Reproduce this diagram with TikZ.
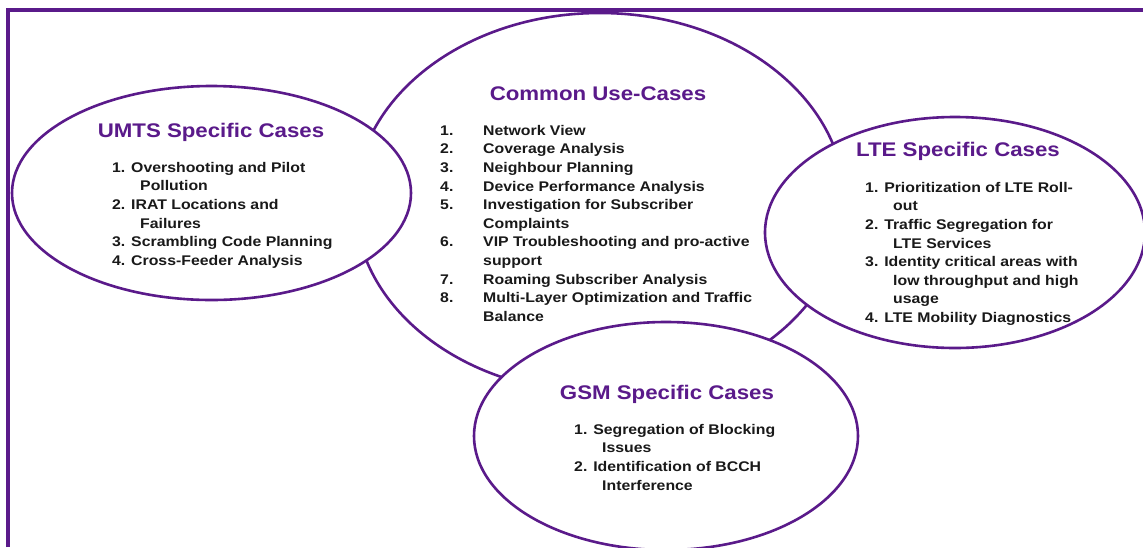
\documentclass[tikz,border=0pt]{standalone}
\usepackage{fontspec}
\setmainfont{Liberation Sans}[FakeStretch=1.13]
\usetikzlibrary{shapes.geometric}
\definecolor{caseviolet}{HTML}{5A1A8A}
\newcommand{\caseno}[1]{\makebox[43pt][l]{#1}}
\newcommand{\subind}{\hspace*{28pt}}
\begin{document}
\begin{tikzpicture}[x=1pt, y=-1pt,
  bubble/.style={ellipse, draw=caseviolet, line width=2.6pt, fill=white, inner sep=0pt},
  heading/.style={font=\fontsize{19.7}{22}\selectfont\bfseries, text=caseviolet, anchor=base, inner sep=0pt},
  items/.style={font=\fontsize{14}{18.6}\selectfont\bfseries, text=black!90, align=left, anchor=north west, inner sep=0pt}]
  \useasboundingbox (0,0) rectangle (1143,547);
  \clip (0,0) rectangle (1143,547);

  % Common use-cases in the middle, drawn first
  \node[bubble, minimum width=490, minimum height=380] (common) at (600,203) {};
  % the specific cases lie over it
  \foreach \name/\cx/\cy/\w/\h in {umts/211.5/193/399/214, lte/955/232.5/380/231, gsm/666/436/384/228}
    \node[bubble, minimum width=\w, minimum height=\h] (\name) at (\cx,\cy) {};

  % outer frame
  \draw[caseviolet, line width=3.2pt] (8,547) -- (8,10) -- (1143,10);

  % Common
  \node[heading] (commontitle) at (598,100) {Common Use-Cases};
  \node[items] (commonlist) at (440,125) {\caseno{1.}Network View\\
    \caseno{2.}Coverage Analysis\\
    \caseno{3.}Neighbour Planning\\
    \caseno{4.}Device Performance Analysis\\
    \caseno{5.}Investigation for Subscriber\\
    \caseno{}Complaints\\
    \caseno{6.}VIP Troubleshooting and pro-active\\
    \caseno{}support\\
    \caseno{7.}Roaming Subscriber Analysis\\
    \caseno{8.}Multi-Layer Optimization and Traffic\\
    \caseno{}Balance};

  % UMTS
  \node[heading] (umtstitle) at (211,137) {UMTS Specific Cases};
  \node[items] (umtslist) at (112,162) {1. Overshooting and Pilot\\
    \subind Pollution\\
    2. IRAT Locations and\\
    \subind Failures\\
    3. Scrambling Code Planning\\
    4. Cross-Feeder Analysis};

  % LTE
  \node[heading] (ltetitle) at (958,156) {LTE Specific Cases};
  \node[items] (ltelist) at (865,182) {1. Prioritization of LTE Roll-\\
    \subind out\\
    2. Traffic Segregation for\\
    \subind LTE Services\\
    3. Identity critical areas with\\
    \subind low throughput and high\\
    \subind usage\\
    4. LTE Mobility Diagnostics};

  % GSM
  \node[heading] (gsmtitle) at (667,399) {GSM Specific Cases};
  \node[items] (gsmlist) at (574,424) {1. Segregation of Blocking\\
    \subind Issues\\
    2. Identification of BCCH\\
    \subind Interference};
\end{tikzpicture}
\end{document}
